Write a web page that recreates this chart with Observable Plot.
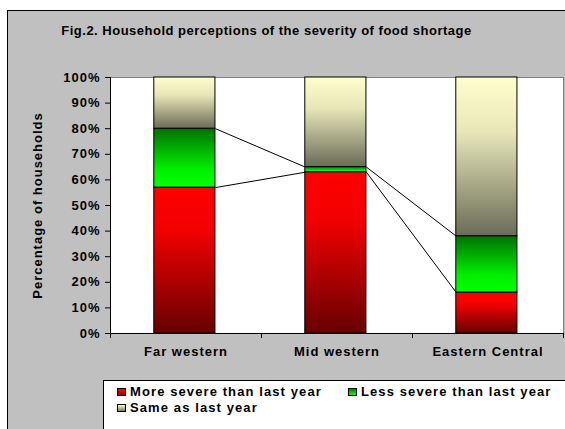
<!DOCTYPE html>
<html><head><meta charset="utf-8">
<script src="https://cdn.jsdelivr.net/npm/d3@7"></script>
<script src="https://cdn.jsdelivr.net/npm/@observablehq/plot@0.6"></script>
<style>
html,body{margin:0;padding:0;background:#fff;overflow:hidden;}
#wrap{position:relative;width:565px;height:429px;overflow:hidden;font-family:Arial,"Liberation Sans",sans-serif;color:#000;}
#frame{position:absolute;left:7px;top:10px;width:600px;height:500px;background:#c0c0c0;border:1px solid #000;}
#title{position:absolute;left:0;width:533px;top:23px;text-align:center;font-weight:bold;font-size:13px;line-height:16px;letter-spacing:0.5px;white-space:nowrap;}
#chart{position:absolute;left:0;top:50px;}
#legend{position:absolute;left:103px;top:380px;width:600px;height:100px;background:#fff;border:1px solid #000;}
.item{position:absolute;font-weight:bold;font-size:13px;letter-spacing:1.1px;line-height:13px;white-space:nowrap;}
.sw{position:absolute;width:7px;height:6px;border:1px solid #000;}
</style>
</head><body>
<div id="wrap">
  <div id="frame"></div>
  <div id="title"></div>
  <div id="chart"></div>
  <div id="legend"></div>
</div>
<script>
const titleText = "Fig.2. Household perceptions of the severity of food shortage";
const yLabel = "Percentage of households";
const categories = ["Far western", "Mid western", "Eastern Central"];
const seriesNames = ["More severe than last year", "Less severe than last year", "Same as last year"];
const moreSevere = [57, 63, 16];
const lessSevere = [23, 2, 22];
const sameAsLast = [20, 35, 62];
const yTicks = [0, 10, 20, 30, 40, 50, 60, 70, 80, 90, 100];

const seriesValues = [moreSevere, lessSevere, sameAsLast];
const gradIds = ["gRed", "gGreen", "gSame"];
const BAR_L = 0.29, BAR_R = 0.695;

// stacked rows
const rows = [];
categories.forEach((c, i) => {
  let cum = 0;
  seriesNames.forEach((s, k) => {
    const v = seriesValues[k][i];
    rows.push({cat: c, i, series: s, y1: cum, y2: cum + v});
    cum += v;
  });
});
// connector lines between cumulative tops of the first two series
const links = [];
for (let k = 0; k < 2; k++) {
  const tops = categories.map((c, i) => rows.find(r => r.i === i && r.series === seriesNames[k]).y2);
  for (let i = 0; i < categories.length - 1; i++) {
    links.push({x1: i + BAR_R, y1: tops[i], x2: i + 1 + BAR_L, y2: tops[i + 1]});
  }
}

document.getElementById("title").textContent = titleText;

const chart = Plot.plot({
  width: 565, height: 320,
  marginTop: 27, marginBottom: 37, marginLeft: 110, marginRight: 2,
  x: {type: "linear", domain: [0, categories.length], axis: null},
  y: {domain: [0, 100], axis: null},
  color: {type: "ordinal", domain: seriesNames, range: gradIds.map(g => `url(#${g})`)},
  style: {background: "transparent", fontFamily: "Arial, 'Liberation Sans', sans-serif", fontSize: "13px", fontWeight: "bold", letterSpacing: "1px", color: "#000", overflow: "visible"},
  marks: [
    Plot.frame({fill: "#fff", stroke: "#808080"}),
    Plot.rect(rows, {x1: d => d.i + BAR_L, x2: d => d.i + BAR_R, y1: "y1", y2: "y2", fill: "series", stroke: "#000", strokeWidth: 1}),
    Plot.link(links, {x1: "x1", y1: "y1", x2: "x2", y2: "y2", stroke: "#000", strokeWidth: 1}),
    Plot.ruleX([0], {stroke: "#000"}),
    Plot.ruleY([0], {stroke: "#000"}),
    Plot.axisY({ticks: yTicks, tickFormat: d => d + "%", tickSize: 5, tickPadding: 5, label: null, stroke: "#000"}),
    Plot.axisX({ticks: d3.range(categories.length + 1), tickFormat: () => "", tickSize: 5, label: null, stroke: "#000"}),
    Plot.text(categories, {x: (d, i) => i + 0.5, frameAnchor: "bottom", dy: 22.5, fontSize: 13, fontWeight: "bold"}),
    Plot.text([yLabel], {frameAnchor: "left", textAnchor: "middle", dx: -73, rotate: -90, fontSize: 13, fontWeight: "bold"})
  ]
});
chart.insertAdjacentHTML("afterbegin", `<defs>
<linearGradient id="gRed" x1="0" y1="0" x2="0" y2="1"><stop offset="0" stop-color="#ff0000"/><stop offset="0.3" stop-color="#f20000"/><stop offset="1" stop-color="#660000"/></linearGradient>
<linearGradient id="gGreen" x1="0" y1="0" x2="0" y2="1"><stop offset="0" stop-color="#007000"/><stop offset="0.7" stop-color="#00f000"/><stop offset="1" stop-color="#00ff00"/></linearGradient>
<linearGradient id="gSame" x1="0" y1="0" x2="0" y2="1"><stop offset="0" stop-color="#ffffcc"/><stop offset="0.35" stop-color="#e6e6b8"/><stop offset="1" stop-color="#6b6b58"/></linearGradient>
</defs>`);
document.getElementById("chart").appendChild(chart);

// legend
const wrap = document.getElementById("wrap");
const swatchCss = [
  "linear-gradient(#ff0000,#990000)",
  "linear-gradient(#008000,#00ff00)",
  "linear-gradient(#ffffcc,#77775f)"
];
const legendPos = [
  {sx: 117, tx: 130, top: 385},
  {sx: 348, tx: 361, top: 385},
  {sx: 117, tx: 130, top: 401}
];
seriesNames.forEach((s, k) => {
  const p = legendPos[k];
  const sw = document.createElement("div");
  sw.className = "sw";
  sw.style.left = p.sx + "px";
  sw.style.top = (p.top + 3) + "px";
  sw.style.background = swatchCss[k];
  wrap.appendChild(sw);
  const t = document.createElement("div");
  t.className = "item";
  t.style.left = p.tx + "px";
  t.style.top = p.top + "px";
  t.textContent = s;
  wrap.appendChild(t);
});
</script>
</body></html>
